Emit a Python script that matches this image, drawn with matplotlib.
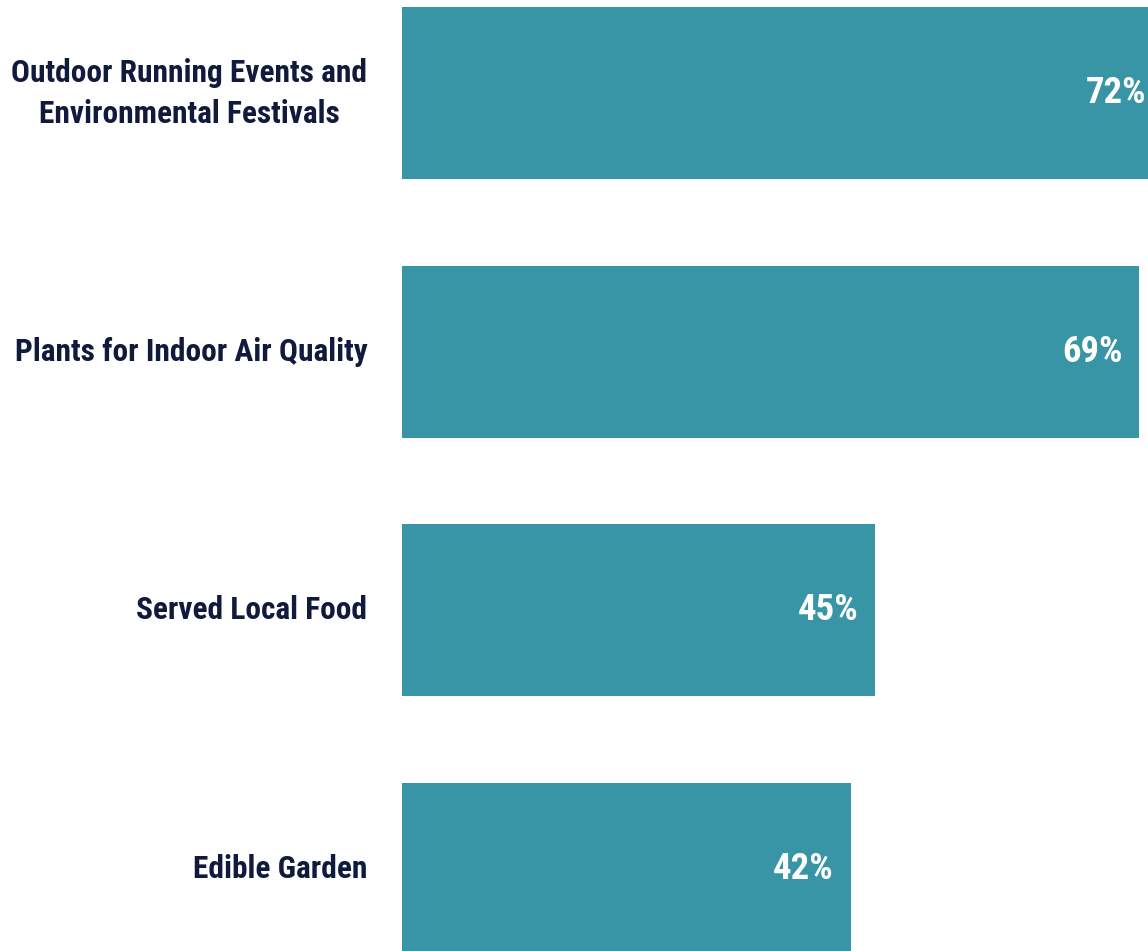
import matplotlib.pyplot as plt

# Data
categories = ['Outdoor Running Events and\nEnvironmental Festivals',
              'Plants for Indoor Air Quality',
              'Served Local Food',
              'Edible Garden']
values = [72, 69, 44.3, 42]
value_labels = ['72%', '69%', '45%', '42%']

bar_color = '#3795a6'
text_color = '#101a3c'
font = ['Roboto Condensed', 'DejaVu Sans']

fig = plt.figure(figsize=(11.48, 9.51), dpi=100)
ax = fig.add_axes([402 / 1148, 0, 1 - 402 / 1148, 1])

y = range(len(categories))
ax.barh(y, values, height=0.665, color=bar_color)
xmax = 69.85
ax.set_xlim(0, xmax)
ax.set_ylim(3.317, -0.36)

for i, (v, lab) in enumerate(zip(values, value_labels)):
    x = min(v, xmax)
    ax.annotate(lab, (x, i), xytext=(-12 if v < xmax else -1.5, 0), textcoords='offset points',
                ha='right', va='center', color='white', fontsize=26.5,
                fontweight='bold', family=font)

for i, cat in enumerate(categories):
    ax.annotate(cat, (0, i), xycoords=('axes fraction', 'data'), xytext=(-25, 0),
                textcoords='offset points', ha='right', va='center',
                color=text_color, fontsize=22.6, fontweight='bold', family=font,
                multialignment='center', linespacing=1.45)

ax.axis('off')
fig.savefig('out.png', dpi=100)
